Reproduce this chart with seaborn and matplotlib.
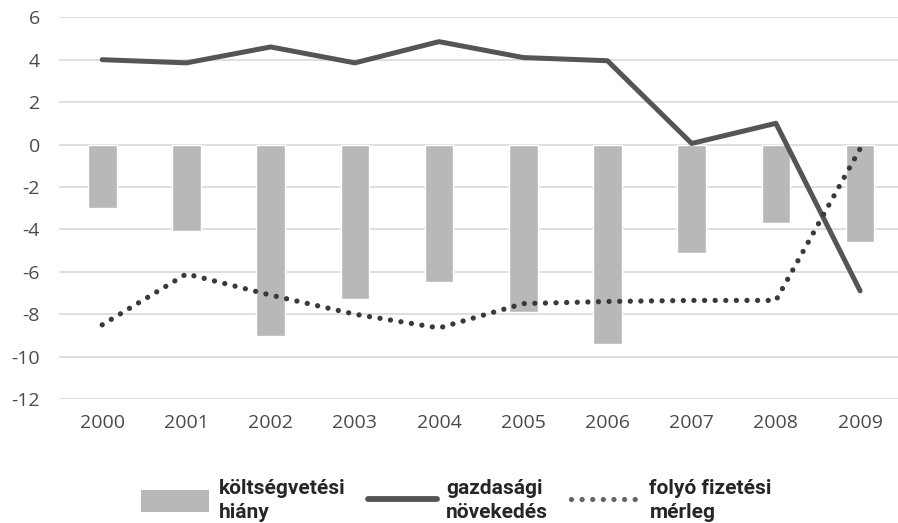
import matplotlib
matplotlib.use("Agg")
import matplotlib.pyplot as plt
import seaborn as sns
from matplotlib.patches import Patch
from matplotlib.lines import Line2D

years = ["2000", "2001", "2002", "2003", "2004", "2005", "2006", "2007", "2008", "2009"]
deficit = [-3.0, -4.1, -9.05, -7.3, -6.5, -7.9, -9.4, -5.1, -3.7, -4.6]
growth = [4.0, 3.85, 4.6, 3.85, 4.85, 4.1, 3.95, 0.05, 1.0, -6.9]
current_account = [-8.5, -6.1, -7.1, -8.0, -8.65, -7.5, -7.4, -7.35, -7.35, -0.2]
labels = ["költségvetési\nhiány", "gazdasági\nnövekedés", "folyó fizetési\nmérleg"]

sns.set_style("white")
plt.rcParams['font.family'] = ['Open Sans', 'DejaVu Sans']
plt.rcParams['axes.unicode_minus'] = False

bar_color = "#b8b8b8"
line_color = "#555555"
dot_color = "#3a3a3a"
text_color = "#4a4a4a"
dots = (0, (0.01, 2.0))

fig = plt.figure(figsize=(8.98, 5.23), dpi=100)
ax = fig.add_axes([0.066, 0.237, 0.934, 0.730])

# bars for the budget deficit
sns.barplot(x=years, y=deficit, color=bar_color, width=0.34, ax=ax, zorder=2)
pos = list(range(len(years)))
# growth line and current account dotted line
sns.lineplot(x=pos, y=growth, color=line_color, linewidth=3.6, ax=ax, zorder=3)
sns.lineplot(x=pos, y=current_account, color=dot_color, linewidth=3.8,
             linestyle=dots, dash_capstyle="round", ax=ax, zorder=3)

ax.set_ylim(-12, 6)
ax.set_yticks(range(-12, 7, 2))
ax.set_xlim(-0.51, 9.45)
ax.yaxis.grid(True, color="#d9d9d9", linewidth=1.2, zorder=0)
ax.set_axisbelow(True)
for s in ax.spines.values():
    s.set_visible(False)
ax.tick_params(axis="both", length=0, labelsize=14, labelcolor=text_color)
ax.tick_params(axis="x", pad=11)
ax.tick_params(axis="y", pad=14)
ax.set_xlabel("")
ax.set_ylabel("")

handles = [
    Patch(facecolor=bar_color, edgecolor="none"),
    Line2D([0], [0], color=line_color, linewidth=4.2),
    Line2D([0], [0], color="#666666", linewidth=3.8, linestyle=dots, dash_capstyle="round"),
]
leg = fig.legend(handles, labels, loc="center", bbox_to_anchor=(0.508, 0.043), ncol=3,
                 frameon=False, handlelength=3.3, handleheight=1.2, handletextpad=0.45,
                 columnspacing=1.1, labelspacing=0.3,
                 prop={"family": ["Roboto"], "size": 15, "weight": "bold"})
for t in leg.get_texts():
    t.set_color("#262626")
    t.set_linespacing(1.35)

fig.savefig("out.png", dpi=100)
plt.close(fig)
